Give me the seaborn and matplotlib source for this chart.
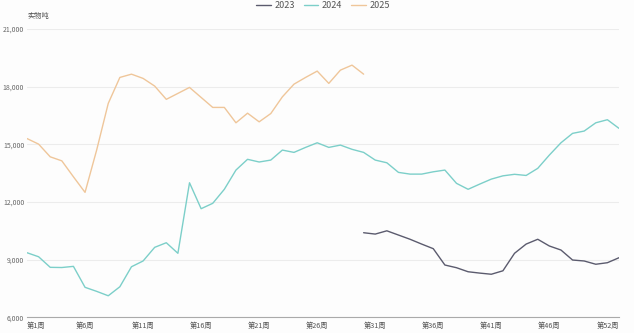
import matplotlib
matplotlib.use("Agg")
import matplotlib.pyplot as plt
import seaborn as sns
import pandas as pd
import numpy as np

weeks = list(range(1, 53))
tick_weeks = [1, 6, 11, 16, 21, 26, 31, 36, 41, 46, 52]
tick_labels = [f"第{w}周" for w in tick_weeks]

v2023 = [None] * 29 + [10400, 10330, 10500, 10280, 10060, 9810, 9570, 8720, 8580, 8370,
                       8300, 8240, 8420, 9330, 9810, 10060, 9710, 9500, 8980, 8930,
                       8760, 8840, 9100]
v2024 = [9360, 9150, 8600, 8590, 8650, 7560, 7350, 7120, 7590, 8630,
         8930, 9640, 9880, 9330, 13000, 11650, 11930, 12660, 13660, 14220,
         14080, 14180, 14700, 14580, 14840, 15080, 14840, 14960, 14740, 14580,
         14180, 14040, 13540, 13450, 13450, 13570, 13660, 12970, 12660, 12930,
         13190, 13360, 13440, 13380, 13750, 14440, 15080, 15570, 15690, 16120,
         16280, 15830]
v2025 = [15300, 15010, 14350, 14140, 13310, 12500, 14700, 17130, 18480, 18650,
         18430, 18030, 17340, 17650, 17960, 17440, 16920, 16920, 16120, 16620,
         16170, 16600, 17470, 18130, 18480, 18810, 18170, 18860, 19120, 18650] + [None] * 22

series = {"2023": v2023, "2024": v2024, "2025": v2025}
colors = {"2023": "#5b5b6e", "2024": "#7ccfc9", "2025": "#efc69a"}

rows = []
for name, vals in series.items():
    for w, v in zip(weeks, vals):
        rows.append({"week": w, "value": np.nan if v is None else v, "year": name})
df = pd.DataFrame(rows)

sns.set_theme(style="white")
plt.rcParams['font.family'] = ['Noto Sans CJK SC', 'DejaVu Sans']

fig = plt.figure(figsize=(6.34, 3.33), dpi=100)
fig.patch.set_facecolor("#fdfdfd")
ax = fig.add_axes([27/634, 1 - 317.3/333, (619 - 27)/634, (317.3 - 29)/333])
ax.set_facecolor("#fdfdfd")

for name in ["2023", "2024", "2025"]:
    sub = df[df["year"] == name]
    sns.lineplot(data=sub, x="week", y="value", ax=ax, color=colors[name],
                 linewidth=1.0, label=name, legend=False)

ax.set_xlim(1, 52)
ax.set_ylim(6000, 21000)
yt = [6000, 9000, 12000, 15000, 18000, 21000]
ax.set_yticks(yt)
ax.set_yticklabels([f"{v:,}" for v in yt], fontsize=5, color="#666666",
                   family=["Noto Sans CJK SC", "DejaVu Sans"])
ax.set_xticks(tick_weeks)
ax.set_xticklabels(tick_labels, fontsize=5.2, color="#555555")
lbls = ax.get_xticklabels()
lbls[0].set_ha("left")
lbls[-1].set_ha("right")
ax.tick_params(axis="x", length=0, pad=3)
ax.tick_params(axis="y", length=0, pad=2)
ax.grid(axis="y", color="#ececec", linewidth=0.8)
ax.set_axisbelow(True)
for s in ["top", "right", "left"]:
    ax.spines[s].set_visible(False)
ax.spines["bottom"].set_color("#aaaaaa")
ax.spines["bottom"].set_linewidth(0.8)
ax.set_xlabel("")
ax.set_ylabel("")

fig.text(27/634, 1 - 16/333, "实物吨", fontsize=5.2, color="#555555", ha="left", va="center")

handles, labels = ax.get_legend_handles_labels()
fig.legend(handles, labels, loc="center", bbox_to_anchor=(323/634, 1 - 6/333), ncol=3,
           frameon=False, fontsize=6.5, handlelength=1.6, handletextpad=0.4,
           columnspacing=1.0, labelcolor="#555555")

fig.savefig("out.png", dpi=100, facecolor=fig.get_facecolor())
